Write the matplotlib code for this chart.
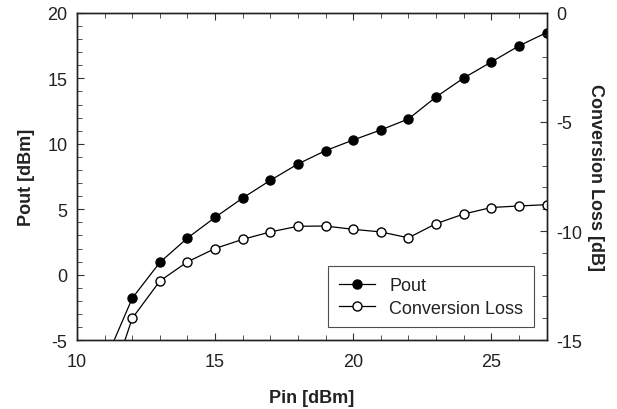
import matplotlib
matplotlib.use("Agg")
import matplotlib.pyplot as plt
from matplotlib.ticker import MultipleLocator

plt.rcParams['font.family'] = ['Liberation Sans', 'DejaVu Sans']
plt.rcParams['axes.unicode_minus'] = False

pin = [11, 12, 13, 14, 15, 16, 17, 18, 19, 20, 21, 22, 23, 24, 25, 26, 27]
pout = [-6.7, -1.8, 0.94, 2.8, 4.38, 5.86, 7.21, 8.46, 9.48, 10.29, 11.06,
        11.9, 13.58, 15.03, 16.25, 17.48, 18.5]
conv_loss = [-17.8, -14.0, -12.29, -11.41, -10.8, -10.38, -10.04, -9.78, -9.77,
             -9.92, -10.04, -10.31, -9.66, -9.22, -8.92, -8.85, -8.79]

txt = '#222222'

fig = plt.figure(figsize=(6.17, 4.10), dpi=100)
ax = fig.add_axes([0.1248, 0.168, 0.761, 0.798])
ax2 = ax.twinx()

l1, = ax.plot(pin, pout, '-o', color='black', lw=0.9, markersize=6.5,
              markerfacecolor='black', label='Pout')
l2, = ax2.plot(pin, conv_loss, '-o', color='black', lw=0.9, markersize=6.5,
               markerfacecolor='white', label='Conversion Loss')

ax.set_xlim(10, 27)
ax.set_ylim(-5, 20)
ax2.set_ylim(-15, 0)

ax.xaxis.set_major_locator(MultipleLocator(5))
ax.xaxis.set_minor_locator(MultipleLocator(1))
ax.yaxis.set_major_locator(MultipleLocator(5))
ax.yaxis.set_minor_locator(MultipleLocator(1))
ax2.yaxis.set_major_locator(MultipleLocator(5))
ax2.yaxis.set_minor_locator(MultipleLocator(1))

ax.tick_params(which='both', direction='in', top=True, right=False,
               labelsize=13, pad=7, labelcolor=txt, color='#333333')
ax.tick_params(axis='x', which='both', pad=9)
ax.tick_params(which='major', length=5)
ax.tick_params(which='minor', length=3.5)
ax2.tick_params(which='both', direction='in', labelsize=13, pad=7,
                labelcolor=txt, color='#333333')
ax2.tick_params(which='major', length=5)
ax2.tick_params(which='minor', length=3.5)

for a in (ax, ax2):
    for s in a.spines.values():
        s.set_linewidth(1.0)
        s.set_color('#222222')

ax.set_xlabel('Pin [dBm]', fontsize=13, fontweight='bold', labelpad=14, color=txt)
ax.set_ylabel('Pout [dBm]', fontsize=13, fontweight='bold', labelpad=9, color=txt)
ax2.set_ylabel('Conversion Loss [dB]', fontsize=13, fontweight='bold',
               rotation=270, labelpad=16, color=txt)

leg = ax2.legend(handles=[l1, l2], loc='lower right', fontsize=13,
                 frameon=True, fancybox=False, edgecolor='#222222',
                 borderaxespad=0.7, handlelength=2.0, labelspacing=0.3,
                 borderpad=0.6)
leg.get_frame().set_linewidth(0.8)
for t in leg.get_texts():
    t.set_color(txt)

fig.savefig('out.png', dpi=100)
